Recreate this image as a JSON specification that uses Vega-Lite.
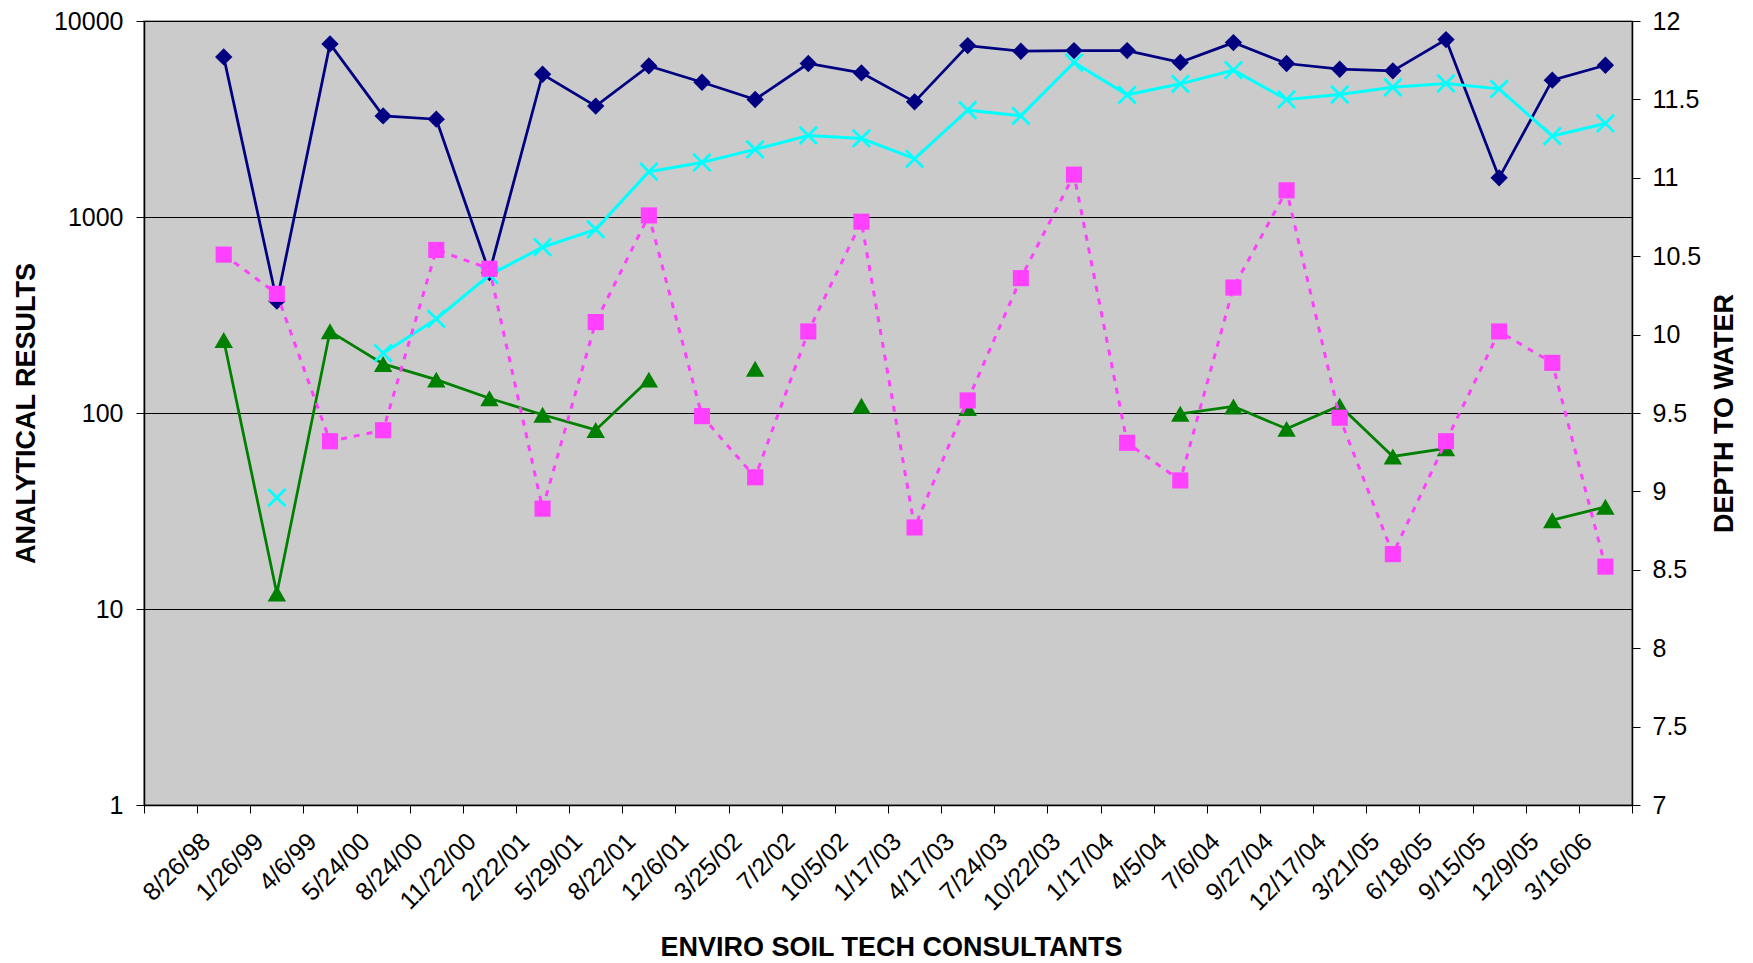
{
  "$schema": "https://vega.github.io/schema/vega-lite/v6.json",
  "width": 1488,
  "height": 784,
  "autosize": {"type": "none"},
  "padding": {"left": 144, "top": 21, "right": 121, "bottom": 158},
  "background": "white",
  "config": {
    "font": "Liberation Sans",
    "view": {"fill": "#CBCBCB", "stroke": "#8C8C8C", "strokeWidth": 1.5},
    "axis": {"labelFont": "Liberation Sans", "titleFont": "Liberation Sans", "labelColor": "black", "titleColor": "black"}
  },
  "data": {
    "values": [
      {"date": "8/26/98", "s1": 6560, "s2": 236, "s3": null, "depth": 10.51},
      {"date": "1/26/99", "s1": 372, "s2": 12, "s3": 37, "depth": 10.26},
      {"date": "4/6/99", "s1": 7640, "s2": 261, "s3": null, "depth": 9.32},
      {"date": "5/24/00", "s1": 3280, "s2": 178, "s3": 202, "depth": 9.39},
      {"date": "8/24/00", "s1": 3155, "s2": 148, "s3": 302, "depth": 10.54},
      {"date": "11/22/00", "s1": 520, "s2": 119, "s3": 506, "depth": 10.42},
      {"date": "2/22/01", "s1": 5350, "s2": 98, "s3": 701, "depth": 8.89},
      {"date": "5/29/01", "s1": 3680, "s2": 82, "s3": 865, "depth": 10.08},
      {"date": "8/22/01", "s1": 5900, "s2": 148, "s3": 1702, "depth": 10.76},
      {"date": "12/6/01", "s1": 4870, "s2": null, "s3": 1898, "depth": 9.48},
      {"date": "3/25/02", "s1": 3977, "s2": 168, "s3": 2213, "depth": 9.09},
      {"date": "7/2/02", "s1": 6070, "s2": null, "s3": 2607, "depth": 10.02},
      {"date": "10/5/02", "s1": 5435, "s2": 109, "s3": 2517, "depth": 10.72},
      {"date": "1/17/03", "s1": 3868, "s2": null, "s3": 1982, "depth": 8.77},
      {"date": "4/17/03", "s1": 7490, "s2": 106, "s3": 3508, "depth": 9.58},
      {"date": "7/24/03", "s1": 7010, "s2": null, "s3": 3280, "depth": 10.36},
      {"date": "10/22/03", "s1": 7065, "s2": null, "s3": 6140, "depth": 11.02},
      {"date": "1/17/04", "s1": 7065, "s2": null, "s3": 4200, "depth": 9.31},
      {"date": "4/5/04", "s1": 6150, "s2": 99, "s3": 4780, "depth": 9.07},
      {"date": "7/6/04", "s1": 7760, "s2": 108, "s3": 5610, "depth": 10.30},
      {"date": "9/27/04", "s1": 6070, "s2": 83, "s3": 3977, "depth": 10.92},
      {"date": "12/17/04", "s1": 5675, "s2": 109, "s3": 4217, "depth": 9.47},
      {"date": "3/21/05", "s1": 5566, "s2": 60, "s3": 4592, "depth": 8.60},
      {"date": "6/18/05", "s1": 8040, "s2": 66, "s3": 4800, "depth": 9.32},
      {"date": "9/15/05", "s1": 1585, "s2": null, "s3": 4506, "depth": 10.02},
      {"date": "12/9/05", "s1": 4990, "s2": 28.4, "s3": 2588, "depth": 9.82},
      {"date": "3/16/06", "s1": 5945, "s2": 33.2, "s3": 3000, "depth": 8.52}
    ]
  },
  "encoding": {
    "x": {
      "field": "date",
      "type": "ordinal",
      "bandPosition": 0.5,
      "scale": {
        "type": "band",
        "paddingInner": 0,
        "paddingOuter": 0,
        "domain": [" ", "8/26/98", "1/26/99", "4/6/99", "5/24/00", "8/24/00", "11/22/00", "2/22/01", "5/29/01", "8/22/01", "12/6/01", "3/25/02", "7/2/02", "10/5/02", "1/17/03", "4/17/03", "7/24/03", "10/22/03", "1/17/04", "4/5/04", "7/6/04", "9/27/04", "12/17/04", "3/21/05", "6/18/05", "9/15/05", "12/9/05", "3/16/06"]
      },
      "axis": {
        "title": "ENVIRO SOIL TECH CONSULTANTS",
        "tickBand": "extent",
        "grid": false,
        "labelAngle": -45,
        "labelAlign": "right",
        "labelBaseline": "middle",
        "labelOffset": -18,
        "labelPadding": 24,
        "labelOverlap": false,
        "labelBound": false,
        "labelFlush": false,
        "labelFontSize": 25,
        "tickSize": 8,
        "tickColor": "black",
        "domainColor": "black",
        "domainWidth": 1.5,
        "titleFontSize": 27,
        "titleFontWeight": "bold",
        "titleX": 747,
        "titleY": 142,
        "titleAlign": "center",
        "titleBaseline": "middle"
      }
    }
  },
  "layer": [
    {
      "mark": {"type": "line", "color": "#000080", "strokeWidth": 2.75},
      "encoding": {
        "y": {
          "field": "s1",
          "type": "quantitative",
          "scale": {"type": "log", "domain": [1, 10000], "nice": false},
          "axis": {
            "orient": "left",
            "title": "ANALYTICAL RESULTS",
            "values": [1, 10, 100, 1000, 10000],
            "format": "d",
            "labelFontSize": 25,
            "labelPadding": 13,
            "tickSize": 8,
            "tickColor": "black",
            "domainColor": "black",
            "domainWidth": 1.5,
            "grid": true,
            "gridColor": "black",
            "gridWidth": 1,
            "titleFontSize": 27,
            "titleFontWeight": "bold",
            "titleAngle": -90,
            "titleX": -118,
            "titleY": 392,
            "titleAlign": "center",
            "titleBaseline": "middle"
          }
        }
      }
    },
    {
      "mark": {"type": "point", "shape": "diamond", "filled": true, "color": "#000080", "size": 300, "opacity": 1},
      "encoding": {"y": {"field": "s1", "type": "quantitative", "scale": {"type": "log", "domain": [1, 10000], "nice": false}, "axis": null}}
    },
    {
      "mark": {"type": "line", "color": "#008000", "strokeWidth": 2.75},
      "encoding": {"y": {"field": "s2", "type": "quantitative", "scale": {"type": "log", "domain": [1, 10000], "nice": false}, "axis": null}}
    },
    {
      "mark": {"type": "point", "shape": "triangle-up", "filled": true, "color": "#008000", "size": 340, "opacity": 1},
      "encoding": {"y": {"field": "s2", "type": "quantitative", "scale": {"type": "log", "domain": [1, 10000], "nice": false}, "axis": null}}
    },
    {
      "mark": {"type": "line", "color": "#00FFFF", "strokeWidth": 3},
      "encoding": {"y": {"field": "s3", "type": "quantitative", "scale": {"type": "log", "domain": [1, 10000], "nice": false}, "axis": null}}
    },
    {
      "mark": {"type": "point", "shape": "M-1,-1L1,1M-1,1L1,-1", "filled": false, "color": "#00FFFF", "strokeWidth": 2.75, "size": 300, "opacity": 1},
      "encoding": {"y": {"field": "s3", "type": "quantitative", "scale": {"type": "log", "domain": [1, 10000], "nice": false}, "axis": null}}
    },
    {
      "mark": {"type": "line", "color": "#FF40FF", "strokeWidth": 3, "strokeDash": [6, 7]},
      "encoding": {
        "y": {
          "field": "depth",
          "type": "quantitative",
          "scale": {"domain": [7, 12], "nice": false, "zero": false},
          "axis": {
            "orient": "right",
            "title": "DEPTH TO WATER",
            "values": [7, 7.5, 8, 8.5, 9, 9.5, 10, 10.5, 11, 11.5, 12],
            "format": "~g",
            "labelFontSize": 25,
            "labelPadding": 12,
            "tickSize": 8,
            "tickColor": "black",
            "domainColor": "black",
            "domainWidth": 1.5,
            "grid": false,
            "titleFontSize": 27,
            "titleFontWeight": "bold",
            "titleAngle": -90,
            "titleX": 92,
            "titleY": 392,
            "titleAlign": "center",
            "titleBaseline": "middle"
          }
        }
      }
    },
    {
      "mark": {"type": "point", "shape": "square", "filled": true, "color": "#FF40FF", "size": 260, "opacity": 1},
      "encoding": {"y": {"field": "depth", "type": "quantitative", "scale": {"domain": [7, 12], "nice": false, "zero": false}, "axis": null}}
    }
  ],
  "resolve": {"scale": {"y": "independent"}, "axis": {"y": "independent"}}
}
